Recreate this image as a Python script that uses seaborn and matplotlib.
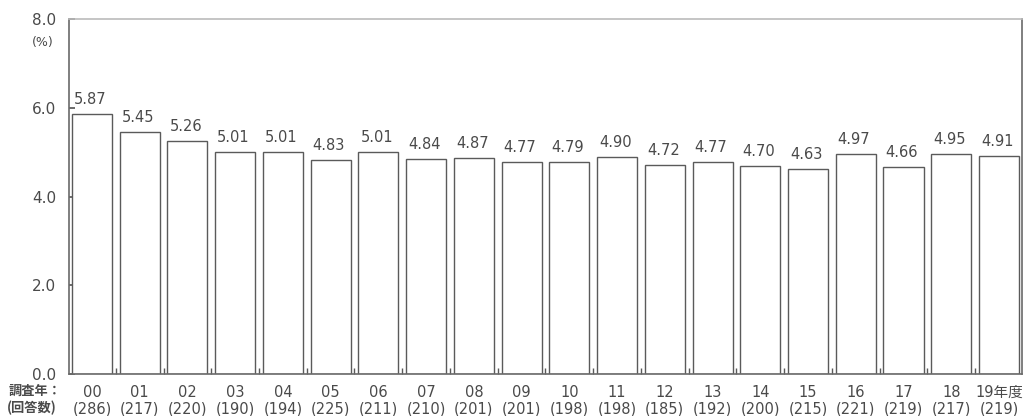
import pandas as pd
import matplotlib
matplotlib.use("Agg")
import matplotlib.pyplot as plt
from matplotlib.ticker import MultipleLocator
import seaborn as sns

# === dati ===
years = ["00", "01", "02", "03", "04", "05", "06", "07", "08", "09",
         "10", "11", "12", "13", "14", "15", "16", "17", "18", "19年度"]
rates = [5.87, 5.45, 5.26, 5.01, 5.01, 4.83, 5.01, 4.84, 4.87, 4.77,
         4.79, 4.90, 4.72, 4.77, 4.70, 4.63, 4.97, 4.66, 4.95, 4.91]
answers = [286, 217, 220, 190, 194, 225, 211, 210, 201, 201,
           198, 198, 185, 192, 200, 215, 221, 219, 217, 219]
yticks = [0, 2, 4, 6, 8]

sns.set_theme(style="white")
plt.rcParams["font.family"] = ["DejaVu Sans", "Noto Sans CJK JP"]

df = pd.DataFrame({"year": years, "rate": rates})
txt = "#4a4a4a"
edge = "#5a5a5a"

fig = plt.figure(figsize=(10.25, 4.16), dpi=100)
ax = fig.add_axes([0.0673, 0.101, 0.9297, 0.853])

sns.barplot(data=df, x="year", y="rate", ax=ax, color="white",
            edgecolor=edge, linewidth=1.0, width=0.84, saturation=1)

# etichette sopra le barre
for i, v in enumerate(rates):
    ax.annotate(f"{v:.2f}", (i - 0.42, v), xytext=(1.5, 5),
                textcoords="offset points", ha="left", va="bottom",
                fontsize=10.5, color=txt)

ax.set_xlim(-0.48, len(years) - 0.52)
ax.set_ylim(0, 8)
ax.set_yticks(yticks)
ax.set_yticklabels([f"{t:.1f}" for t in yticks], fontsize=11, color=txt)
ax.set_xticks(range(len(years)))
ax.set_xticklabels([f"{y}\n({n})" for y, n in zip(years, answers)],
                   fontsize=10.5, color=txt, linespacing=1.15)
ax.xaxis.set_minor_locator(MultipleLocator(1, offset=0.5))
ax.tick_params(axis="x", which="major", length=0, pad=8)
ax.tick_params(axis="x", which="minor", direction="in", length=4,
               color=edge, bottom=True)
ax.tick_params(axis="y", direction="in", length=4, color=edge, left=True,
               pad=9)
ax.set_xlabel("")
ax.set_ylabel("")

for s in ax.spines.values():
    s.set_visible(True)
    s.set_color("#6a6a6a")
    s.set_linewidth(1.2)
ax.spines["top"].set_color("#bbbbbb")

fig.text(0.031, 0.899, "(%)", fontsize=9, color=txt, ha="left",
         va="center")
fig.text(0.008, 0.060, "調査年：", fontsize=9.5, color=txt, ha="left",
         va="center", weight="bold", family=["Noto Sans CJK JP"])
fig.text(0.007, 0.019, "(回答数)", fontsize=9.5, color=txt, ha="left",
         va="center", weight="bold", family=["Noto Sans CJK JP"])

fig.savefig("out.png", dpi=100)
